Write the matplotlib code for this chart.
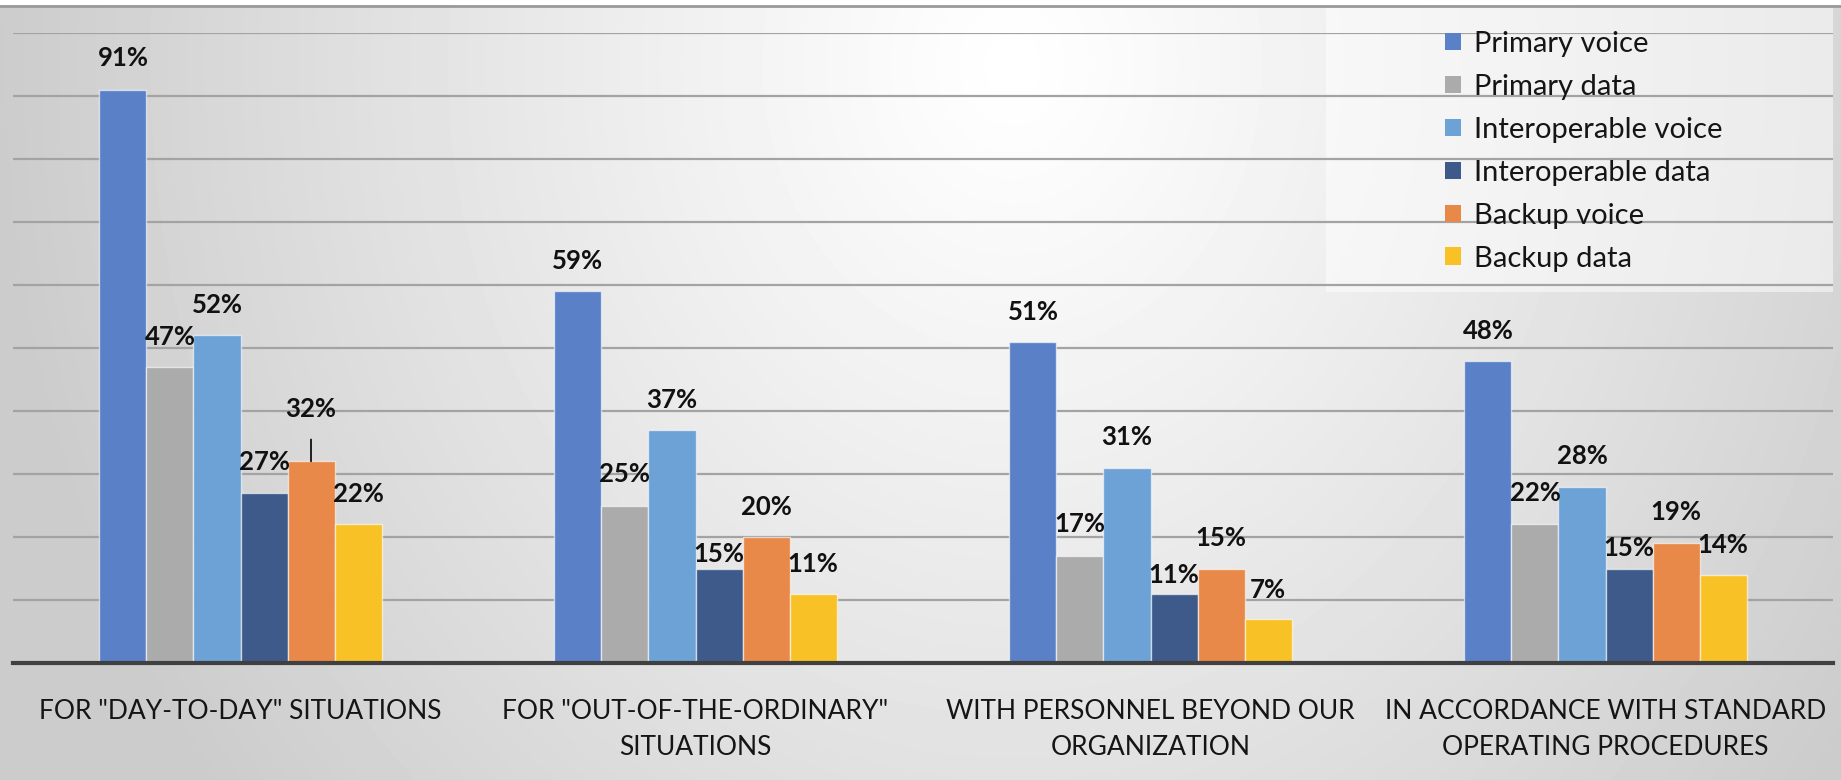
import numpy as np
import matplotlib
matplotlib.use('Agg')
import matplotlib.pyplot as plt
from matplotlib.patches import Patch, Rectangle

categories = ['FOR "DAY-TO-DAY" SITUATIONS',
              'FOR "OUT-OF-THE-ORDINARY"\nSITUATIONS',
              'WITH PERSONNEL BEYOND OUR\nORGANIZATION',
              'IN ACCORDANCE WITH STANDARD\nOPERATING PROCEDURES']
series_names = ['Primary voice', 'Primary data', 'Interoperable voice',
                'Interoperable data', 'Backup voice', 'Backup data']
primary_voice = [91, 59, 51, 48]
primary_data = [47, 25, 17, 22]
interop_voice = [52, 37, 31, 28]
interop_data = [27, 15, 11, 15]
backup_voice = [32, 20, 15, 19]
backup_data = [22, 11, 7, 14]
values = [primary_voice, primary_data, interop_voice, interop_data, backup_voice, backup_data]

colors = ['#5A80C8', '#ABABAB', '#6CA2D6', '#3E5A8A', '#E8894A', '#F8C125']

# label offsets above bar tops (pixels), per series then per category
label_offsets = [[32, 30, 30, 30],
                 [30, 32, 32, 31],
                 [30, 30, 31, 31],
                 [31, 15, 19, 20],
                 [52, 30, 31, 31],
                 [30, 30, 29, 30]]

plt.rcParams['font.family'] = ['Lato', 'DejaVu Sans']

W, H = 1841, 780
fig = plt.figure(figsize=(W / 100, H / 100), dpi=100)

# radial gradient background
bg = fig.add_axes([0, 0, 1, 1], zorder=-10)
xx, yy = np.meshgrid(np.linspace(0, 1, 400), np.linspace(0, 1, 170))
r = np.sqrt(((xx - 0.55) / 0.55) ** 2 + ((yy - 0.08) / 1.5) ** 2)
light = 1.0 - 0.2 * np.clip(r, 0, 1) ** 1.1
bg.imshow(light, cmap='gray', vmin=0, vmax=1, aspect='auto', extent=[0, 1, 1, 0],
          interpolation='bilinear')
bg.set_xlim(0, 1)
bg.set_ylim(1, 0)
bg.axis('off')
# top border
bg.add_patch(Rectangle((0, 0), 1, 4.5 / H, color='white', lw=0))
bg.plot([0, 1], [5.5 / H, 5.5 / H], color='#9a9a9a', lw=2)
# light box behind legend
bg.add_patch(Rectangle((1326 / W, 8 / H), (1833 - 1326) / W, (292 - 8) / H,
                       facecolor='white', alpha=0.5, lw=0))

ax = fig.add_axes([13 / W, (H - 663) / H, 1820 / W, 630 / H])
ax.patch.set_alpha(0)
ax.set_xlim(-0.5, 3.5)
ax.set_ylim(0, 100)

w = 0.1033
x = np.arange(len(categories))
for j, (vals, c, name) in enumerate(zip(values, colors, series_names)):
    xs = x + (j - 2.5) * w
    ax.bar(xs, vals, width=w, color=c, edgecolor=(1, 1, 1, 0.6), linewidth=1.0,
           label=name, zorder=3)
    for i in range(len(categories)):
        off = label_offsets[j][i]
        arrow = None
        if off > 40:
            arrow = dict(arrowstyle='-', color='black', lw=1.2, shrinkA=11, shrinkB=0)
        ax.annotate(f'{vals[i]}%', xy=(xs[i], vals[i]), xytext=(0, off),
                    textcoords='offset pixels', ha='center', va='center',
                    fontsize=18.5, fontweight='bold', color='#111111',
                    arrowprops=arrow, zorder=5)

ax.set_yticks(np.arange(10, 101, 10))
ax.yaxis.grid(True, color='#a3a3a3', lw=1.6)
ax.set_axisbelow(True)
ax.tick_params(axis='y', length=0, labelleft=False)
ax.axhline(0, color='#404040', lw=3, zorder=4, clip_on=False)
for s in ax.spines.values():
    s.set_visible(False)

ax.set_xticks(x)
ax.set_xticklabels(categories, fontsize=19, color='#151515', linespacing=1.55)
ax.tick_params(axis='x', length=0, pad=26)

handles = [Patch(facecolor=c, edgecolor='none') for c in colors]
fig.legend(handles, series_names, loc='upper left',
           bbox_to_anchor=(1445 / W, 1 - 31 / H), frameon=False, fontsize=21,
           handlelength=0.56, handleheight=0.55, handletextpad=0.42,
           labelspacing=0.58, borderpad=0, borderaxespad=0, labelcolor='#151515')

fig.savefig('out.png', dpi=100)
